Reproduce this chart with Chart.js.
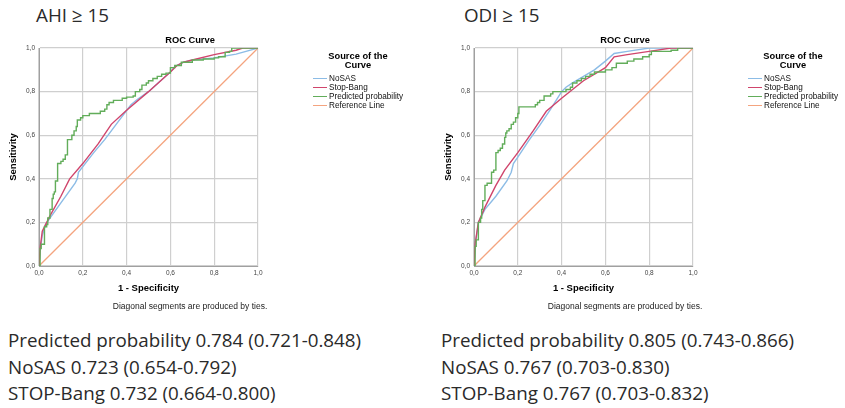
<!DOCTYPE html>
<html>
<head>
<meta charset="utf-8">
<script src="https://cdn.jsdelivr.net/npm/chart.js@4.4.1/dist/chart.umd.min.js"></script>
<style>
  html, body { margin: 0; padding: 0; background: #fff; }
  body { width: 845px; height: 408px; position: relative; overflow: hidden; font-family: 'Open Sans', sans-serif; color: #2a2a2a; }
  .panel { position: absolute; top: 0; width: 420px; height: 315px; }
  .panel canvas { position: absolute; left: 0; top: 0; }
  .heading { position: absolute; top: 2px; font-size: 18.8px; line-height: 26.7px; white-space: nowrap; }
  .auc { position: absolute; top: 327px; font-size: 18.8px; line-height: 26.7px; white-space: nowrap; }
  .lg-title { position: absolute; left: 298px; width: 120px; top: 51.8px; text-align: center; font: bold 9.3px/8.7px 'Liberation Sans', Arial, sans-serif; color: #000; }
  .lg-row { position: absolute; left: 313px; height: 9px; font: 8.2px/9px 'Liberation Sans', Arial, sans-serif; color: #111; white-space: nowrap; }
  .lg-row i { position: absolute; left: 0; top: 4.2px; width: 14px; height: 1.4px; }
  .lg-row span { position: absolute; left: 16px; top: 0; }
</style>
</head>
<body>
<div class="heading" style="left:36px">AHI ≥ 15</div>
<div class="heading" style="left:464px">ODI ≥ 15</div>

<div class="panel" id="panel-ahi" style="left:0px"><canvas id="chart-ahi" width="380" height="315"></canvas></div>
<div class="panel" id="panel-odi" style="left:435px"><canvas id="chart-odi" width="380" height="315"></canvas></div>

<div class="auc" style="left:8px">Predicted probability 0.784 (0.721-0.848)<br>NoSAS 0.723 (0.654-0.792)<br>STOP-Bang 0.732 (0.664-0.800)</div>
<div class="auc" style="left:441px">Predicted probability 0.805 (0.743-0.866)<br>NoSAS 0.767 (0.703-0.830)<br>STOP-Bang 0.767 (0.703-0.832)</div>

<script>

const seriesNames = ['NoSAS', 'Stop-Bang', 'Predicted probability', 'Reference Line']
const seriesColors = ['#8cbce6', '#d0456c', '#62ad5a', '#f4a47f']
const tickLabels = ['0,0', '0,2', '0,4', '0,6', '0,8', '1,0']

const referenceLine = [[0, 0], [0.5, 0.5], [1, 1]]

// AHI >= 15
const ahiNoSAS = [[0,0],[0.005,0.07],[0.015,0.14],[0.03,0.19],[0.05,0.22],[0.1,0.29],[0.165,0.38],[0.175,0.4],[0.18,0.43],
  [0.25,0.52],[0.3,0.58],[0.36,0.66],[0.42,0.74],[0.45,0.765],[0.5,0.8],[0.55,0.845],[0.6,0.89],[0.62,0.915],
  [0.66,0.935],[0.7,0.945],[0.8,0.955],[0.9,0.972],[1,1]]
const ahiStopBang = [[0,0],[0.005,0.08],[0.015,0.16],[0.03,0.19],[0.05,0.23],[0.1,0.32],[0.14,0.4],[0.2,0.47],[0.27,0.56],
  [0.33,0.65],[0.4,0.715],[0.5,0.8],[0.6,0.89],[0.63,0.92],[0.66,0.935],[0.7,0.945],[0.8,0.97],[0.9,0.99],[0.93,1],[1,1]]
const ahiPredicted = [[0,0],[0.005,0.08],[0.01,0.1],[0.025,0.11],[0.025,0.18],[0.035,0.19],[0.04,0.22],[0.05,0.26],
  [0.06,0.31],[0.065,0.33],[0.07,0.34],[0.075,0.39],[0.085,0.47],[0.1,0.48],[0.11,0.49],[0.12,0.51],[0.13,0.58],
  [0.15,0.6],[0.16,0.62],[0.17,0.64],[0.175,0.67],[0.19,0.68],[0.2,0.69],[0.23,0.7],[0.27,0.7],[0.28,0.71],
  [0.3,0.72],[0.31,0.74],[0.32,0.75],[0.34,0.76],[0.38,0.77],[0.4,0.775],[0.43,0.78],[0.44,0.8],[0.46,0.81],
  [0.47,0.83],[0.49,0.84],[0.5,0.85],[0.52,0.86],[0.54,0.87],[0.56,0.88],[0.58,0.885],[0.6,0.91],[0.62,0.92],
  [0.65,0.935],[0.7,0.945],[0.75,0.95],[0.8,0.955],[0.82,0.96],[0.85,0.98],[0.87,0.985],[0.88,1],[1,1]]

// ODI >= 15
const odiNoSAS = [[0,0],[0.005,0.09],[0.02,0.2],[0.05,0.26],[0.1,0.32],[0.15,0.39],[0.17,0.43],[0.18,0.47],[0.2,0.5],
  [0.25,0.575],[0.3,0.645],[0.35,0.72],[0.4,0.8],[0.42,0.82],[0.45,0.84],[0.5,0.87],[0.55,0.9],[0.6,0.94],
  [0.64,0.975],[0.7,0.985],[0.8,1],[1,1]]
const odiStopBang = [[0,0],[0.005,0.1],[0.02,0.2],[0.05,0.27],[0.1,0.37],[0.14,0.44],[0.2,0.52],[0.27,0.62],[0.33,0.71],
  [0.4,0.77],[0.45,0.81],[0.5,0.85],[0.6,0.91],[0.64,0.96],[0.7,0.97],[0.8,0.985],[0.9,1],[1,1]]
const odiPredicted = [[0,0],[0.005,0.09],[0.01,0.12],[0.02,0.13],[0.02,0.2],[0.03,0.22],[0.035,0.26],[0.04,0.27],
  [0.04,0.3],[0.05,0.31],[0.05,0.37],[0.06,0.38],[0.08,0.385],[0.08,0.43],[0.09,0.44],[0.1,0.52],[0.11,0.53],
  [0.12,0.54],[0.13,0.56],[0.14,0.59],[0.145,0.61],[0.15,0.62],[0.16,0.63],[0.17,0.65],[0.18,0.66],[0.19,0.68],
  [0.2,0.7],[0.205,0.73],[0.27,0.73],[0.28,0.74],[0.29,0.75],[0.3,0.76],[0.32,0.78],[0.35,0.79],[0.36,0.8],
  [0.41,0.8],[0.42,0.81],[0.44,0.82],[0.45,0.84],[0.47,0.85],[0.49,0.86],[0.51,0.87],[0.53,0.88],[0.55,0.89],
  [0.6,0.9],[0.63,0.91],[0.65,0.93],[0.7,0.94],[0.73,0.95],[0.77,0.96],[0.8,0.97],[0.81,0.985],[0.9,0.99],
  [0.93,1],[1,1]]

const FONT = "'Liberation Sans', Arial, sans-serif"

function tickLabel(v){
  return tickLabels[Math.round(v / 0.2)]
}

function axis(titleText, titlePadding, fit){
  return {
    type: 'linear', min: 0, max: 1,
    ticks: { stepSize: 0.2, padding: titleText === 'Sensitivity' ? 4 : 3, color: '#444',
      font: { family: FONT, size: 6.5 }, callback: tickLabel },
    grid: { color: '#cfcfcf', lineWidth: 1.2, drawTicks: false },
    border: { color: '#a0a0a0' },
    title: { display: true, text: titleText, color: '#000', padding: titlePadding,
      font: { family: FONT, size: 9.5, weight: 'bold' } },
    afterFit: fit
  }
}

function makeChart(id, curves){
  // reference first, green on top like SPSS
  const drawOrder = [2, 1, 0, 3]
  const datasets = curves.map((pts, i) => ({
    label: seriesNames[i],
    data: pts.map(p => ({ x: p[0], y: p[1] })),
    showLine: true,
    fill: false,
    borderColor: seriesColors[i],
    backgroundColor: seriesColors[i],
    borderWidth: i === 3 ? 1.3 : 1.4,
    pointRadius: 0,
    pointHoverRadius: 0,
    stepped: i === 2 ? 'before' : false,
    order: drawOrder[i]
  }))
  return new Chart(document.getElementById(id), {
    type: 'scatter',
    data: { datasets },
    options: {
      responsive: false, animation: false, devicePixelRatio: 1,
      layout: { padding: 0 },
      plugins: {
        legend: { display: false },
        tooltip: { enabled: false },
        title: { display: true, text: 'ROC Curve', color: '#000',
          font: { family: FONT, size: 9.3, weight: 'bold' }, padding: { top: 35.1, bottom: 1.8 } },
        subtitle: { display: true, position: 'bottom', text: 'Diagonal segments are produced by ties.', color: '#222',
          font: { family: FONT, size: 8.5 }, padding: { top: 0, bottom: 3.6 } }
      },
      scales: {
        x: axis('1 - Specificity', { top: 0, bottom: 7.5 }, s => { s.height = 35.2 }),
        y: axis('Sensitivity', { top: 7.3, bottom: 0 }, s => { s.width = 39 }),
        // empty right-hand box that keeps room for the legend
        side: { type: 'linear', position: 'right', display: true,
          grid: { display: false }, ticks: { display: false }, border: { display: false },
          afterFit: s => { s.width = 122 } }
      }
    }
  })
}

function buildLegend(panelId){
  const panel = document.getElementById(panelId)
  const t = document.createElement('div')
  t.className = 'lg-title'
  t.innerHTML = 'Source of the<br>Curve'
  panel.appendChild(t)
  seriesNames.forEach((name, i) => {
    const row = document.createElement('div')
    row.className = 'lg-row'
    row.style.top = (73.7 + i * 9) + 'px'
    row.innerHTML = `<i style="background:${seriesColors[i]}"></i><span>${name}</span>`
    panel.appendChild(row)
  })
}

makeChart('chart-ahi', [ahiNoSAS, ahiStopBang, ahiPredicted, referenceLine])
makeChart('chart-odi', [odiNoSAS, odiStopBang, odiPredicted, referenceLine])
buildLegend('panel-ahi')
buildLegend('panel-odi')
</script>
</body>
</html>
